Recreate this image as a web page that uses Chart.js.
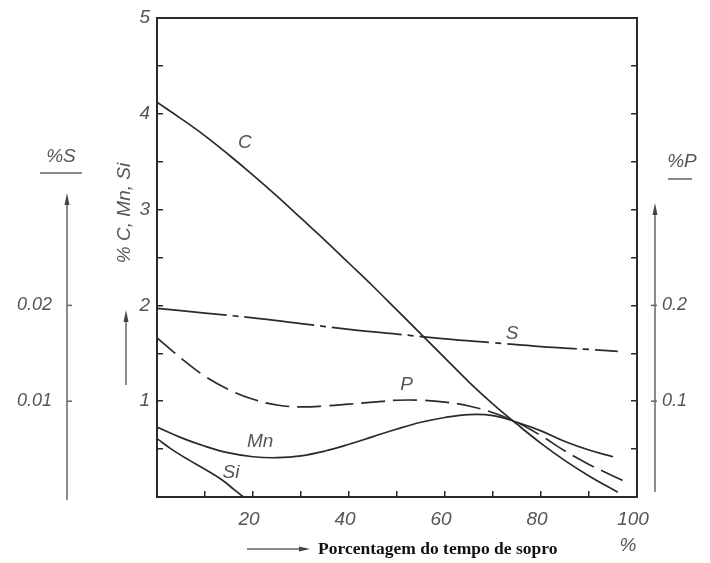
<!DOCTYPE html>
<html>
<head>
<meta charset="utf-8">
<script src="https://cdn.jsdelivr.net/npm/chart.js@4/dist/chart.umd.min.js"></script>
<style>
  html, body { margin: 0; padding: 0; background: #fff; }
</style>
</head>
<body>
<canvas id="chart" width="710" height="563"></canvas>
<script>
// blow time (%) and composition values
var cTime = [0, 5, 10, 15, 20, 25, 30, 35, 40, 45, 50, 55, 60, 65, 70, 75, 80, 85, 90, 96];
var cValues = [4.12, 3.95, 3.77, 3.57, 3.36, 3.14, 2.91, 2.68, 2.44, 2.2, 1.95, 1.7, 1.45, 1.2, 0.97, 0.76, 0.56, 0.38, 0.22, 0.05];

var mnTime = [0, 5, 10, 15, 20, 25, 30, 35, 40, 45, 50, 55, 60, 65, 70, 75, 80, 85, 90, 95];
var mnValues = [0.73, 0.62, 0.53, 0.46, 0.42, 0.41, 0.43, 0.48, 0.55, 0.63, 0.71, 0.78, 0.83, 0.86, 0.85, 0.78, 0.69, 0.58, 0.49, 0.42];

var siTime = [0, 3, 6.5, 10, 13.5, 16, 18];
var siValues = [0.61, 0.5, 0.39, 0.29, 0.18, 0.08, 0];

// %P (right scale)
var pTime = [0, 5, 10, 15, 20, 25, 30, 35, 40, 45, 50, 55, 60, 65, 70, 75, 80, 85, 90, 95, 98];
var pValues = [0.166, 0.145, 0.126, 0.112, 0.102, 0.096, 0.094, 0.095, 0.097, 0.099, 0.101, 0.101, 0.099, 0.095, 0.088, 0.078, 0.064, 0.048, 0.034, 0.022, 0.015];

// %S (outer left scale)
var sTime = [0, 10, 20, 30, 40, 50, 60, 70, 80, 90, 96];
var sValues = [0.0197, 0.0192, 0.0187, 0.0181, 0.0175, 0.017, 0.0165, 0.0161, 0.0157, 0.0154, 0.0152];

var xTickLabels = [20, 40, 60, 80, 100];
var mainTickLabels = [1, 2, 3, 4, 5];
var sTickValues = [0.01, 0.02];
var pTickLabels = [0.1, 0.2];

var ink = "#2a2a2a";
var textGray = "#555";
var sansFont = "'Liberation Sans', Arial, sans-serif";

function toPoints(xs, ys) {
  return xs.map(function (x, i) {
    return { x: x, y: ys[i] };
  });
}

function lineSet(label, xs, ys, axis, dash) {
  return {
    label: label,
    data: toPoints(xs, ys),
    yAxisID: axis,
    borderColor: ink,
    borderWidth: 1.7,
    borderDash: dash,
    pointRadius: 0,
    tension: 0.4,
    fill: false,
  };
}

// keep the plot box where the figure has it
function noPad(s) {
  s.paddingTop = 0;
  s.paddingBottom = 0;
  s.paddingLeft = 0;
  s.paddingRight = 0;
}

// text + arrows around the plot
var decorPlugin = {
  id: "decor",
  afterDraw: function (chart) {
    var ctx = chart.ctx;
    var area = chart.chartArea;
    var sc = chart.scales;

    function arrowUp(x, yBottom, yTop) {
      ctx.beginPath();
      ctx.moveTo(x, yBottom);
      ctx.lineTo(x, yTop + 8);
      ctx.stroke();
      ctx.beginPath();
      ctx.moveTo(x, yTop);
      ctx.lineTo(x - 2.5, yTop + 12);
      ctx.lineTo(x + 2.5, yTop + 12);
      ctx.closePath();
      ctx.fill();
    }

    ctx.save();
    ctx.strokeStyle = "#666";
    ctx.fillStyle = "#444";
    ctx.lineWidth = 1.5;

    // %S axis
    var sx = sc.yS.right;
    arrowUp(sx, area.bottom + 3, 193);
    sTickValues.forEach(function (v) {
      var y = sc.yS.getPixelForValue(v);
      ctx.beginPath();
      ctx.moveTo(sx, y);
      ctx.lineTo(sx + 5, y);
      ctx.stroke();
    });

    // %P axis
    var px = area.right + 18;
    arrowUp(px, area.bottom - 5, 203);
    pTickLabels.forEach(function (v) {
      var y = sc.yP.getPixelForValue(v);
      ctx.beginPath();
      ctx.moveTo(px - 4, y);
      ctx.lineTo(px + 2, y);
      ctx.stroke();
    });

    // small arrow beside the main axis
    arrowUp(126, 385, 310);

    // x title arrow
    ctx.beginPath();
    ctx.moveTo(247, 549);
    ctx.lineTo(302, 549);
    ctx.stroke();
    ctx.beginPath();
    ctx.moveTo(310, 549);
    ctx.lineTo(299, 546.5);
    ctx.lineTo(299, 551.5);
    ctx.closePath();
    ctx.fill();

    ctx.fillStyle = "#111";
    ctx.font = "bold 17.5px 'Liberation Serif', 'Times New Roman', serif";
    ctx.textAlign = "left";
    ctx.textBaseline = "middle";
    ctx.fillText("Porcentagem do tempo de sopro", 318, 549);

    ctx.fillStyle = textGray;
    ctx.font = "italic 19px " + sansFont;
    ctx.textAlign = "center";
    ctx.fillText("%", 628, 546);

    // %S and %P headings
    ctx.fillText("%S", 61, 157);
    ctx.fillText("%P", 682, 162);
    ctx.beginPath();
    ctx.moveTo(40, 173);
    ctx.lineTo(82, 173);
    ctx.moveTo(668, 179);
    ctx.lineTo(692, 179);
    ctx.stroke();

    // rotated y title
    ctx.save();
    ctx.translate(125, 213);
    ctx.rotate(-Math.PI / 2);
    ctx.font = "italic 19px " + sansFont;
    ctx.fillText("% C, Mn, Si", 0, 0);
    ctx.restore();

    // curve labels
    ctx.font = "italic 19px " + sansFont;
    var labels = [
      ["C", sc.x.getPixelForValue(18.3), sc.y.getPixelForValue(3.7)],
      ["Mn", sc.x.getPixelForValue(21.5), sc.y.getPixelForValue(0.58)],
      ["Si", sc.x.getPixelForValue(15.4), sc.y.getPixelForValue(0.25)],
      ["P", sc.x.getPixelForValue(52), sc.yP.getPixelForValue(0.117)],
      ["S", sc.x.getPixelForValue(74), sc.yS.getPixelForValue(0.017)],
    ];
    labels.forEach(function (l) {
      ctx.fillText(l[0], l[1], l[2]);
    });
    ctx.restore();
  },
};

new Chart(document.getElementById("chart"), {
  type: "line",
  data: {
    datasets: [
      lineSet("C", cTime, cValues, "y", []),
      lineSet("Mn", mnTime, mnValues, "y", []),
      lineSet("Si", siTime, siValues, "y", []),
      lineSet("P", pTime, pValues, "yP", [24, 8]),
      lineSet("S", sTime, sValues, "yS", [70, 6, 6, 6]),
    ],
  },
  options: {
    responsive: false,
    animation: false,
    layout: { padding: { top: 18, left: 0, right: 0, bottom: 0 } },
    plugins: {
      legend: { display: false },
      tooltip: { enabled: false },
    },
    scales: {
      x: {
        type: "linear",
        position: "bottom",
        min: 0,
        max: 100,
        afterFit: function (s) {
          s.height = 66;
          noPad(s);
        },
        border: { color: ink, width: 2 },
        grid: { drawOnChartArea: false, tickLength: -6, color: ink, lineWidth: 1.5 },
        ticks: {
          stepSize: 10,
          autoSkip: false,
          maxRotation: 0,
          padding: 17,
          labelOffset: -4,
          color: textGray,
          font: { family: sansFont, style: "italic", size: 19 },
          callback: function (v) {
            return xTickLabels.indexOf(v) >= 0 ? String(v) : "";
          },
        },
      },
      xTop: {
        type: "linear",
        position: "top",
        min: 0,
        max: 100,
        afterFit: function (s) {
          s.height = 0;
          noPad(s);
        },
        border: { color: ink, width: 2 },
        grid: { drawOnChartArea: false, drawTicks: false },
        ticks: { display: false },
      },
      y: {
        type: "linear",
        position: "left",
        weight: 0,
        min: 0,
        max: 5,
        afterFit: function (s) {
          s.width = 90;
          noPad(s);
        },
        border: { color: ink, width: 2 },
        grid: { drawOnChartArea: false, tickLength: -6, color: ink, lineWidth: 1.5 },
        ticks: {
          stepSize: 0.5,
          padding: 13,
          color: textGray,
          font: { family: sansFont, style: "italic", size: 19 },
          callback: function (v) {
            return mainTickLabels.indexOf(v) >= 0 ? String(v) : "";
          },
        },
      },
      yS: {
        type: "linear",
        position: "left",
        weight: 1,
        min: 0,
        max: 0.05,
        afterFit: function (s) {
          s.width = 67;
          noPad(s);
        },
        afterBuildTicks: function (s) {
          s.ticks = sTickValues.map(function (v) {
            return { value: v };
          });
        },
        border: { display: false },
        grid: { drawOnChartArea: false, drawTicks: false },
        ticks: {
          padding: 15,
          color: textGray,
          font: { family: sansFont, style: "italic", size: 18 },
          callback: function (v) {
            return v.toFixed(2);
          },
        },
      },
      yP: {
        type: "linear",
        position: "right",
        min: 0,
        max: 0.5,
        afterFit: function (s) {
          s.width = 73;
          noPad(s);
        },
        border: { color: ink, width: 2 },
        grid: { drawOnChartArea: false, tickLength: -6, color: ink, lineWidth: 1.5 },
        ticks: {
          stepSize: 0.05,
          padding: 31,
          color: textGray,
          font: { family: sansFont, style: "italic", size: 18 },
          callback: function (v) {
            var hit = pTickLabels.filter(function (t) {
              return Math.abs(t - v) < 1e-6;
            });
            return hit.length ? String(hit[0]) : "";
          },
        },
      },
    },
  },
  plugins: [decorPlugin],
});
</script>
</body>
</html>
